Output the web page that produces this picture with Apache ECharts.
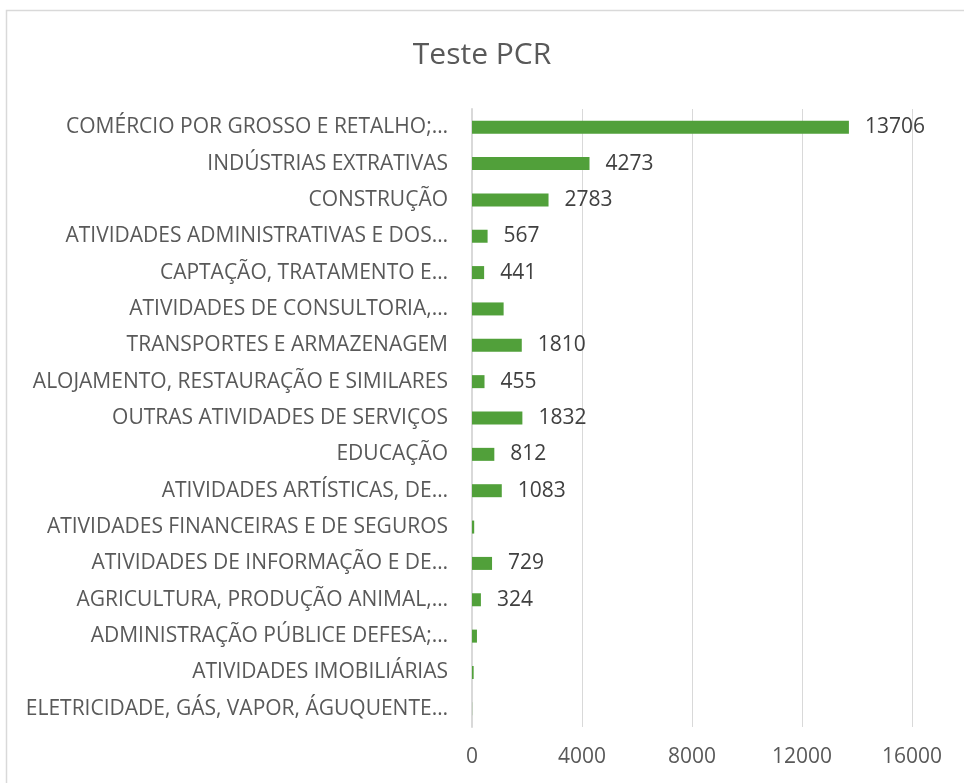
<!DOCTYPE html>
<html>
<head>
<meta charset="utf-8">
<script src="https://cdn.jsdelivr.net/npm/echarts@6/dist/echarts.min.js"></script>
<style>
	html, body { margin: 0; padding: 0; background: #fff; }
	#chart { width: 964px; height: 783px; }
</style>
</head>
<body>
<div id="chart"></div>
<script>
	// categorias (de cima para baixo)
	var categories = [
		'COMÉRCIO POR GROSSO E RETALHO;…',
		'INDÚSTRIAS EXTRATIVAS',
		'CONSTRUÇÃO',
		'ATIVIDADES ADMINISTRATIVAS E DOS…',
		'CAPTAÇÃO, TRATAMENTO E…',
		'ATIVIDADES DE CONSULTORIA,…',
		'TRANSPORTES E ARMAZENAGEM',
		'ALOJAMENTO, RESTAURAÇÃO E SIMILARES',
		'OUTRAS ATIVIDADES DE SERVIÇOS',
		'EDUCAÇÃO',
		'ATIVIDADES ARTÍSTICAS, DE…',
		'ATIVIDADES FINANCEIRAS E DE SEGUROS',
		'ATIVIDADES DE INFORMAÇÃO E DE…',
		'AGRICULTURA, PRODUÇÃO ANIMAL,…',
		'ADMINISTRAÇÃO PÚBLICE DEFESA;…',
		'ATIVIDADES IMOBILIÁRIAS',
		'ELETRICIDADE, GÁS, VAPOR, ÁGUQUENTE…'
	];
	var values = [13706, 4273, 2783, 567, 441, 1150, 1810, 455, 1832, 812, 1083, 80, 729, 324, 180, 60, 5];
	// quais barras mostram o rótulo de valor
	var showLabel = [true, true, true, true, true, false, true, true, true, true, true, false, true, true, false, false, false];
	var xTicks = [0, 4000, 8000, 12000, 16000];

	var myChart = echarts.init(document.getElementById('chart'));

	var option = {
		title: {
			text: 'Teste PCR',
			left: 'center',
			top: 35,
			textStyle: {
				fontFamily: 'Open Sans',
				fontSize: 30,
				fontWeight: 'normal',
				color: '#595959'
			}
		},
		graphic: [{
			type: 'rect',
			shape: { x: 6.5, y: 10.5, width: 1000, height: 900 },
			style: { fill: 'none', stroke: '#d9d9d9', lineWidth: 1.5 },
			silent: true
		}],
		grid: {
			left: 472,
			right: 52,
			top: 109,
			bottom: 56
		},
		xAxis: {
			type: 'value',
			min: xTicks[0],
			max: xTicks[xTicks.length - 1],
			interval: 4000,
			axisLine: { show: false },
			axisTick: { show: false },
			splitLine: { lineStyle: { color: '#d9d9d9', width: 1 } },
			axisLabel: {
				margin: 20,
				fontFamily: 'Open Sans',
				fontSize: 21,
				color: '#595959',
				formatter: function (v) { return String(v); }
			}
		},
		yAxis: {
			type: 'category',
			inverse: true,
			data: categories,
			axisLine: { lineStyle: { color: '#d9d9d9', width: 2 } },
			axisTick: { show: false },
			axisLabel: {
				margin: 24,
				fontFamily: 'Open Sans',
				fontSize: 21,
				color: '#595959'
			}
		},
		series: [{
			type: 'bar',
			data: values.map(function (v, i) {
				return { value: v, label: { show: showLabel[i] } };
			}),
			barWidth: 13,
			itemStyle: { color: '#51a03a' },
			label: {
				position: 'right',
				distance: 16,
				fontFamily: 'Open Sans',
				fontSize: 21,
				color: '#404040'
			},
			animation: false
		}]
	};

	myChart.setOption(option);
</script>
</body>
</html>
